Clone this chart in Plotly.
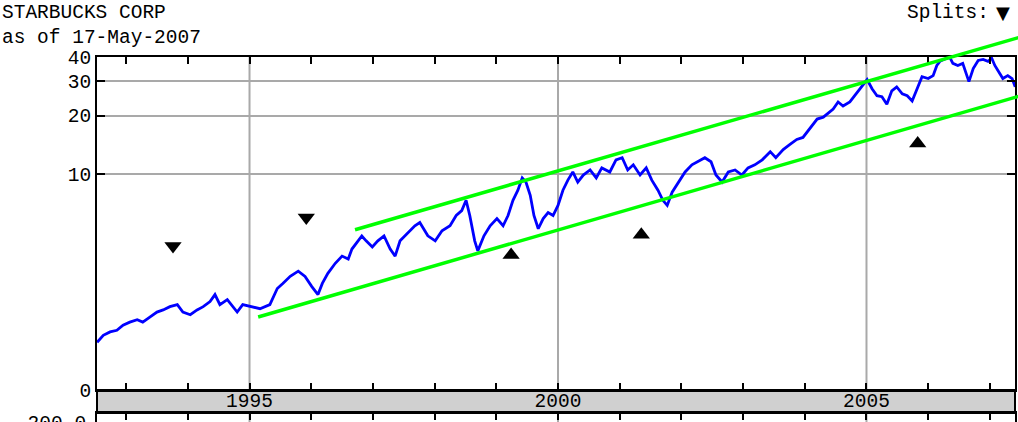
import math
import plotly.graph_objects as go

# ---------------- data ----------------
title_text = "STARBUCKS CORP"
subtitle_text = "as of 17-May-2007"
splits_label = "Splits:"
volume_tick_vals = [200]
volume_tick_text = ["200.0"]

years = [1992.53, 1992.63, 1992.74, 1992.85, 1992.95, 1993.06, 1993.18, 1993.27, 1993.39, 1993.50,
         1993.60, 1993.71, 1993.83, 1993.92, 1994.04, 1994.15, 1994.25, 1994.36, 1994.44, 1994.52,
         1994.64, 1994.80, 1994.89, 1995.06, 1995.17, 1995.33, 1995.45, 1995.54, 1995.66, 1995.79,
         1995.90, 1996.01, 1996.11, 1996.18, 1996.27, 1996.39, 1996.50, 1996.60, 1996.66, 1996.76,
         1996.82, 1996.89, 1996.99, 1997.08, 1997.18, 1997.28, 1997.36, 1997.44, 1997.57, 1997.68,
         1997.76, 1997.89, 1998.01, 1998.12, 1998.25, 1998.35, 1998.44, 1998.51, 1998.57, 1998.65,
         1998.70, 1998.80, 1998.90, 1999.01, 1999.11, 1999.19, 1999.27, 1999.35, 1999.42, 1999.48,
         1999.55, 1999.61, 1999.68, 1999.76, 1999.84, 1999.92, 2000.00, 2000.08, 2000.16, 2000.24,
         2000.32, 2000.41, 2000.52, 2000.62, 2000.71, 2000.84, 2000.94, 2001.04, 2001.13, 2001.22,
         2001.33, 2001.43, 2001.52, 2001.62, 2001.70, 2001.77, 2001.85, 2001.95, 2002.06, 2002.17,
         2002.27, 2002.38, 2002.48, 2002.56, 2002.66, 2002.76, 2002.87, 2002.98, 2003.08, 2003.19,
         2003.31, 2003.44, 2003.53, 2003.65, 2003.76, 2003.87, 2003.97, 2004.08, 2004.20, 2004.30,
         2004.46, 2004.54, 2004.62, 2004.73, 2004.81, 2004.93, 2005.01, 2005.09, 2005.17, 2005.25,
         2005.33, 2005.41, 2005.49, 2005.58, 2005.66, 2005.74, 2005.82, 2005.90, 2006.00, 2006.08,
         2006.14, 2006.19, 2006.30, 2006.35, 2006.40, 2006.48, 2006.56, 2006.63, 2006.66, 2006.73,
         2006.81, 2006.89, 2006.97, 2007.03, 2007.08, 2007.16, 2007.21, 2007.29, 2007.36, 2007.41]

prices = [1.37, 1.49, 1.55, 1.58, 1.68, 1.74, 1.79, 1.74, 1.85, 1.96,
          2.01, 2.09, 2.14, 1.96, 1.90, 2.01, 2.09, 2.22, 2.41, 2.14,
          2.27, 1.96, 2.14, 2.09, 2.04, 2.14, 2.59, 2.75, 2.99, 3.18,
          2.99, 2.65, 2.41, 2.75, 3.10, 3.49, 3.80, 3.67, 4.13, 4.55,
          4.82, 4.55, 4.23, 4.55, 4.82, 4.13, 3.80, 4.55, 5.01, 5.44,
          5.65, 4.83, 4.55, 5.13, 5.44, 6.14, 6.51, 7.35, 6.14, 4.55,
          4.04, 4.83, 5.44, 5.92, 5.44, 6.14, 7.35, 8.28, 9.57, 9.12,
          7.80, 6.14, 5.25, 5.92, 6.36, 6.14, 6.92, 8.28, 9.33, 10.27,
          9.12, 9.91, 10.52, 9.57, 10.78, 10.27, 11.86, 12.16, 10.52, 11.18,
          9.91, 10.78, 9.33, 8.28, 7.35, 6.92, 8.09, 9.12, 10.27, 11.18,
          11.59, 12.16, 11.59, 9.91, 9.12, 10.27, 10.52, 9.91, 10.78, 11.18,
          11.86, 13.06, 12.16, 13.39, 14.22, 15.10, 15.45, 17.03, 19.2, 19.63,
          21.6, 23.5, 22.4, 23.5, 25.3, 28.5, 30.6, 27.5, 25.3, 25.0,
          22.9, 26.8, 28.1, 25.9, 25.3, 23.8, 27.5, 31.7, 31.0, 32.1,
          36.2, 38.0, 39.4, 39.8, 37.1, 36.2, 37.1, 32.1, 29.9, 34.9,
          38.4, 38.9, 38.0, 39.4, 36.2, 32.9, 31.0, 32.1, 31.0, 28.1]

split_down_years = [1993.76, 1995.92]
split_down_vals = [4.28, 6.0]
split_up_years = [1999.24, 2001.35, 2005.83]
split_up_vals = [3.85, 4.89, 14.4]

upper_channel_years = [1996.71, 2007.5]
upper_channel_vals = [5.19, 50.7]
lower_channel_years = [1995.14, 2007.5]
lower_channel_vals = [1.85, 25.3]

y_bottom_value = 0.78
y_tick_vals = [y_bottom_value, 10, 20, 30, 40]
y_tick_text = ["0", "10", "20", "30", "40"]
x_tick_years = list(range(1993, 2008))
x_labelled_years = [1995, 2000, 2005]
x_tick_text = [str(yr) if yr in x_labelled_years else "" for yr in x_tick_years]

# ---------------- layout geometry ----------------
W, H = 1018, 422
FONT = "Liberation Mono"
FS = 19.5
BLACK = "#000000"
GRID = "#a9a9a9"


def px_x(px):
    return px / W


def px_y(py):
    return (H - py) / H


x_dom = [px_x(97), px_x(1015)]
y_dom = [px_y(390), px_y(57)]
band_dom = [px_y(413), px_y(390)]
vol_dom = [0, px_y(413)]

x_range = [1992.528, 2007.407]
y_range = [math.log10(y_bottom_value), math.log10(40)]
vol_range = [199, 300]

# overlay axes spanning the whole figure at the same scale (channel lines may leave the frame)
kx = (x_range[1] - x_range[0]) / (x_dom[1] - x_dom[0])
ox_range = [x_range[0] - x_dom[0] * kx, x_range[1] + (1 - x_dom[1]) * kx]
ky = (y_range[1] - y_range[0]) / (y_dom[1] - y_dom[0])
oy_range = [y_range[0] - y_dom[0] * ky, y_range[1] + (1 - y_dom[1]) * ky]

fig = go.Figure()

fig.add_trace(go.Scatter(x=years, y=prices, mode="lines",
                         line=dict(color="#0000ff", width=2.8),
                         xaxis="x", yaxis="y", hoverinfo="skip"))
fig.add_trace(go.Scatter(x=split_down_years, y=split_down_vals, mode="markers",
                         marker=dict(symbol="triangle-down", size=15, color=BLACK),
                         xaxis="x", yaxis="y", hoverinfo="skip"))
fig.add_trace(go.Scatter(x=split_up_years, y=split_up_vals, mode="markers",
                         marker=dict(symbol="triangle-up", size=15, color=BLACK),
                         xaxis="x", yaxis="y", hoverinfo="skip"))
# volume panel (only its top edge is visible)
fig.add_trace(go.Scatter(x=[x_range[0]], y=[250], mode="markers", marker=dict(opacity=0),
                         xaxis="x2", yaxis="y2", hoverinfo="skip"))
# channel lines on overlay axes
fig.add_trace(go.Scatter(x=upper_channel_years, y=upper_channel_vals, mode="lines",
                         line=dict(color="#00ff00", width=3.5),
                         xaxis="x3", yaxis="y3", hoverinfo="skip"))
fig.add_trace(go.Scatter(x=lower_channel_years, y=lower_channel_vals, mode="lines",
                         line=dict(color="#00ff00", width=3.5),
                         xaxis="x3", yaxis="y3", hoverinfo="skip"))

fig.update_layout(
    width=W, height=H, autosize=False,
    margin=dict(l=0, r=0, t=0, b=0, pad=0, autoexpand=False),
    paper_bgcolor="white", plot_bgcolor="rgba(0,0,0,0)",
    showlegend=False,
    font=dict(family=FONT, size=FS, color=BLACK),
    xaxis=dict(domain=x_dom, range=x_range, anchor="y", automargin=False,
               tickmode="array", tickvals=x_tick_years, ticktext=x_tick_text,
               ticks="inside", ticklen=7, tickwidth=2, tickcolor=BLACK,
               showline=True, linewidth=2, linecolor=BLACK, mirror="ticks",
               showgrid=False, zeroline=False, ticklabelstandoff=-8,
               tickfont=dict(family=FONT, size=FS)),
    yaxis=dict(domain=y_dom, range=y_range, type="log", anchor="x", automargin=False,
               tickmode="array", tickvals=y_tick_vals, ticktext=y_tick_text,
               ticks="inside", ticklen=8, tickwidth=2, tickcolor=BLACK,
               showline=True, linewidth=2, linecolor=BLACK, mirror="ticks",
               showgrid=True, gridcolor=GRID, gridwidth=2, zeroline=False,
               tickfont=dict(family=FONT, size=FS)),
    xaxis2=dict(domain=x_dom, range=x_range, anchor="y2", side="top", automargin=False,
                tickmode="array", tickvals=x_tick_years, showticklabels=False,
                ticks="inside", ticklen=7, tickwidth=2, tickcolor=BLACK,
                showline=True, linewidth=2, linecolor=BLACK,
                showgrid=False, zeroline=False),
    yaxis2=dict(domain=vol_dom, range=vol_range, anchor="x2", automargin=False,
                tickmode="array", tickvals=volume_tick_vals, ticktext=volume_tick_text,
                showline=True, linewidth=2, linecolor=BLACK, mirror=True,
                showticklabels=True, ticks="", showgrid=False, zeroline=False,
                ticklabeloverflow="allow",
                ticklabelstandoff=5, tickfont=dict(family=FONT, size=FS)),
    xaxis3=dict(domain=[0, 1], range=ox_range, anchor="y3", visible=False, automargin=False),
    yaxis3=dict(domain=[0, 1], range=oy_range, type="log", anchor="x3", visible=False,
                automargin=False),
)

# vertical grid lines at labelled years (price panel and volume panel)
for yr in x_labelled_years:
    for dom in (y_dom, vol_dom):
        fig.add_shape(type="line", xref="x", yref="paper", x0=yr, x1=yr,
                      y0=dom[0], y1=dom[1], line=dict(color=GRID, width=2), layer="below")

# grey date band between price panel and volume panel
fig.add_shape(type="rect", xref="paper", yref="paper",
              x0=x_dom[0], x1=x_dom[1], y0=band_dom[0], y1=band_dom[1],
              fillcolor="#d0d0d0", line=dict(color=BLACK, width=2), layer="below")

fig.add_annotation(text=title_text, xref="paper", yref="paper", x=0, y=1,
                   xanchor="left", yanchor="top", showarrow=False,
                   font=dict(family=FONT, size=FS))
fig.add_annotation(text=subtitle_text, xref="paper", yref="paper", x=0, y=px_y(38),
                   xanchor="left", yanchor="middle", showarrow=False,
                   font=dict(family=FONT, size=FS))
fig.add_annotation(text=splits_label, xref="paper", yref="paper", x=px_x(905), y=1,
                   xanchor="left", yanchor="top", showarrow=False,
                   font=dict(family=FONT, size=FS))
fig.add_annotation(text="\u25BC", xref="paper", yref="paper", x=px_x(1003), y=1,
                   xanchor="center", yanchor="top", showarrow=False,
                   font=dict(family="DejaVu Sans", size=18))

fig.write_html("out.html", config={"displayModeBar": False},
               post_script="document.body.style.margin='0px'; document.body.style.overflow='hidden';")
